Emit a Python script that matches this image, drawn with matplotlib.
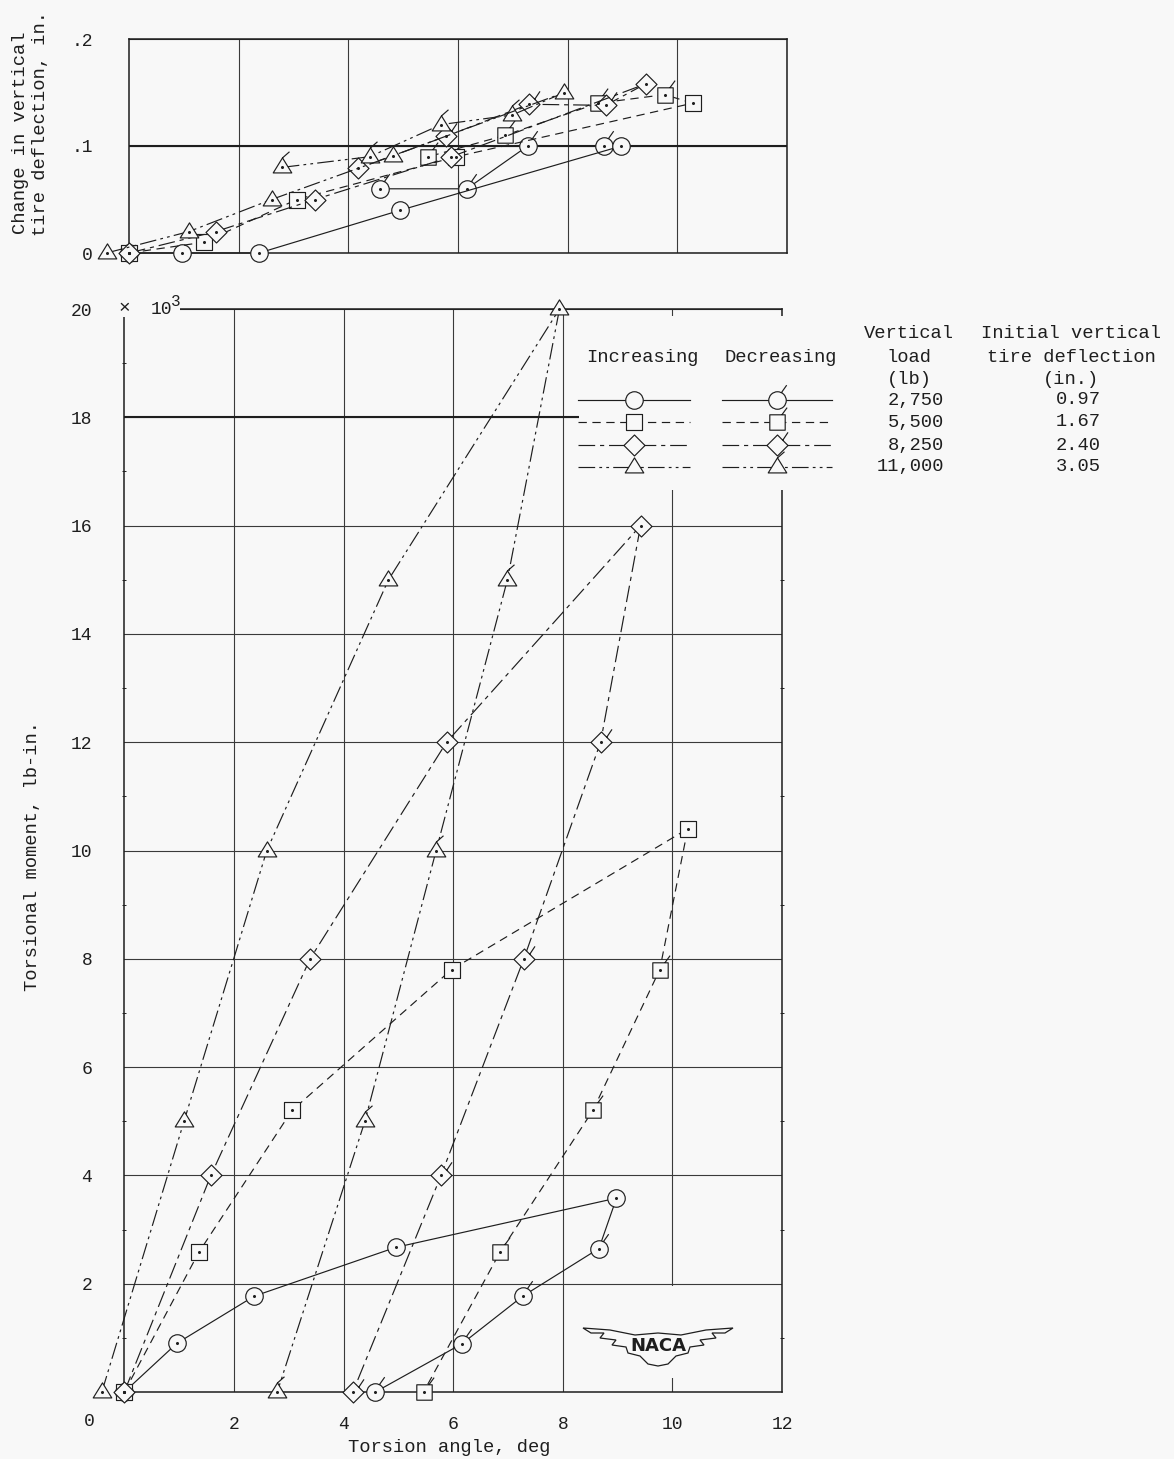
import numpy as np
import matplotlib
matplotlib.use("Agg")
import matplotlib.pyplot as plt
from matplotlib.path import Path
from matplotlib.lines import Line2D
from matplotlib.patches import Rectangle, Polygon

plt.rcParams['font.family'] = ['Liberation Mono', 'DejaVu Sans']
plt.rcParams['lines.scale_dashes'] = False

# ---------------- data ----------------
legend_loads = ["2,750", "5,500", "8,250", "11,000"]
legend_deflections = ["0.97", "1.67", "2.40", "3.05"]
x_ticks = [2, 4, 6, 8, 10, 12]
moment_ticks = [2, 4, 6, 8, 10, 12, 14, 16, 18, 20]
defl_ticks = [0, 0.1, 0.2]
defl_tick_labels = ["0", ".1", ".2"]

# angle (deg), torsional moment (x10^3 lb-in), change in vertical tire deflection (in.)
# 2,750 lb  (circle)
c_inc_angle = [0.0, 0.96, 2.37, 4.95, 8.98]
c_inc_moment = [0.0, 0.90, 1.77, 2.67, 3.58]
c_inc_defl = [0.0, 0.0, 0.0, 0.040, 0.100]
c_dec_angle = [8.98, 8.66, 7.27, 6.16, 4.58]
c_dec_moment = [3.58, 2.65, 1.77, 0.89, 0.0]
c_dec_defl = [0.100, 0.100, 0.100, 0.060, 0.060]
# 5,500 lb  (square)
s_inc_angle = [0.0, 1.36, 3.06, 5.97, 10.28]
s_inc_moment = [0.0, 2.58, 5.20, 7.80, 10.40]
s_inc_defl = [0.0, 0.010, 0.050, 0.090, 0.140]
s_dec_angle = [10.28, 9.77, 8.55, 6.86, 5.46]
s_dec_moment = [10.40, 7.80, 5.20, 2.59, 0.0]
s_dec_defl = [0.140, 0.148, 0.140, 0.110, 0.090]
# 8,250 lb  (diamond)
d_inc_angle = [0.0, 1.58, 3.39, 5.88, 9.42]
d_inc_moment = [0.0, 4.0, 8.0, 12.0, 16.0]
d_inc_defl = [0.0, 0.020, 0.050, 0.090, 0.158]
d_dec_angle = [9.42, 8.69, 7.29, 5.78, 4.17]
d_dec_moment = [16.0, 12.0, 8.0, 4.0, 0.0]
d_dec_defl = [0.158, 0.138, 0.139, 0.109, 0.079]
# 11,000 lb (triangle)
t_inc_angle = [-0.41, 1.09, 2.60, 4.82, 7.94]
t_inc_moment = [0.0, 5.0, 10.0, 15.0, 20.0]
t_inc_defl = [0.0, 0.020, 0.050, 0.091, 0.150]
t_dec_angle = [7.94, 6.99, 5.69, 4.39, 2.79]
t_dec_moment = [20.0, 15.0, 10.0, 5.0, 0.0]
t_dec_defl = [0.150, 0.129, 0.120, 0.090, 0.080]

series = [
    ("circle", "-", c_inc_angle, c_inc_moment, c_inc_defl, c_dec_angle, c_dec_moment, c_dec_defl),
    ("square", (0, (6, 4)), s_inc_angle, s_inc_moment, s_inc_defl, s_dec_angle, s_dec_moment, s_dec_defl),
    ("diamond", (0, (12, 3.5, 3, 3.5)), d_inc_angle, d_inc_moment, d_inc_defl, d_dec_angle, d_dec_moment, d_dec_defl),
    ("triangle", (0, (12, 3, 2, 3, 2, 3)), t_inc_angle, t_inc_moment, t_inc_defl, t_dec_angle, t_dec_moment, t_dec_defl),
]

# ---------------- style ----------------
BG = "#f8f8f8"
INK = "#1e1e1e"
GRID = "#3a3a3a"
W, H = 1174, 1459
U = 6.3  # points per marker unit


def fx(px):
    return px / W


def fy(py):
    return 1 - py / H


def marker_path(shape, flag):
    if shape == "circle":
        base = Path.unit_circle()
        fl = [(0.45, 0.9), (1.05, 1.75)]
    elif shape == "square":
        base = Path([(-0.88, -0.88), (0.88, -0.88), (0.88, 0.88), (-0.88, 0.88), (-0.88, -0.88)],
                    [Path.MOVETO, Path.LINETO, Path.LINETO, Path.LINETO, Path.CLOSEPOLY])
        fl = [(0.5, 0.88), (1.1, 1.7)]
    elif shape == "diamond":
        base = Path([(0, -1.2), (1.2, 0), (0, 1.2), (-1.2, 0), (0, -1.2)],
                    [Path.MOVETO, Path.LINETO, Path.LINETO, Path.LINETO, Path.CLOSEPOLY])
        fl = [(0.6, 0.6), (1.2, 1.5)]
    else:
        base = Path([(-1.06, -0.62), (1.06, -0.62), (0, 1.1), (-1.06, -0.62)],
                    [Path.MOVETO, Path.LINETO, Path.LINETO, Path.CLOSEPOLY])
        fl = [(0.0, 1.1), (0.8, 1.8)]
    if flag:
        p = Path.make_compound_path(base, Path(fl, [Path.MOVETO, Path.LINETO]))
    else:
        p = base
    ms = U * 2 * np.max(np.abs(p.vertices))
    return p, ms


def draw_series(ax, shape, ls, xi, yi, xd, yd):
    p_inc, ms_inc = marker_path(shape, False)
    p_dec, ms_dec = marker_path(shape, True)
    common = dict(color=INK, lw=0.85, ls=ls, mfc=BG, mec=INK, mew=0.85, clip_on=False, zorder=3)
    ax.plot(xd, yd, marker=p_dec, ms=ms_dec, markevery=list(range(1, len(xd))), **common)
    ax.plot(xi, yi, marker=p_inc, ms=ms_inc, **common)
    ax.plot(list(xi) + list(xd[1:]), list(yi) + list(yd[1:]), ls="none", marker="o",
            ms=1.2, color=INK, clip_on=False, zorder=4)


fig = plt.figure(figsize=(W / 100, H / 100), dpi=100, facecolor=BG)

ax_top = fig.add_axes([fx(129), fy(253), (787 - 129) / W, (253 - 39) / H])
ax_bot = fig.add_axes([fx(124.3), fy(1392), (782 - 124.3) / W, (1392 - 309) / H])

for ax in (ax_top, ax_bot):
    ax.set_facecolor(BG)
    ax.set_axisbelow(True)
    ax.set_xlim(0, 12)
    ax.set_xticks(x_ticks)
    ax.grid(True, color=GRID, lw=0.8)
    for sp in ax.spines.values():
        sp.set_linewidth(1.1)
        sp.set_color(INK)
    ax.tick_params(length=0, labelsize=13, colors=INK)

# top panel
ax_top.set_ylim(0, 0.2)
ax_top.set_yticks(defl_ticks)
ax_top.set_yticklabels(defl_tick_labels)
ax_top.set_xticklabels([])
ax_top.tick_params(axis="y", pad=26)
ax_top.axhline(0.1, color=INK, lw=1.5, zorder=0.6)

# bottom panel
ax_bot.set_ylim(0, 20)
ax_bot.set_yticks(moment_ticks)
ax_bot.set_yticklabels([str(v) for v in moment_ticks])
ax_bot.set_xticklabels([str(v) for v in x_ticks])
ax_bot.tick_params(axis="y", pad=23)
ax_bot.tick_params(axis="x", pad=17)
ax_bot.set_yticks(np.arange(1, 20, 2), minor=True)
ax_bot.tick_params(axis="y", which="minor", length=3, direction="inout", right=True, width=0.6)
ax_bot.axhline(18, color=INK, lw=1.5, zorder=0.6)

for shape, ls, ai, mi, di, ad, md, dd in series:
    draw_series(ax_top, shape, ls, ai, di, ad, dd)
    draw_series(ax_bot, shape, ls, ai, mi, ad, md)

# white box behind legend (hides grid and right frame)
ax_bot.add_patch(Rectangle((8.3, 16.66), 4.4, 3.21, fc=BG, ec="none", zorder=2.6, clip_on=False))
# white area behind logo
ax_bot.add_patch(Rectangle((9.7, 0.26), 0.6, 1.70, fc=BG, ec="none", zorder=0.8))

# corner of frame hidden behind the "x 10^3" label
fig.add_artist(Rectangle((fx(110), fy(317)), (180 - 110) / W, (317 - 300) / H,
                         transform=fig.transFigure, fc=BG, ec="none", zorder=1))

# axis texts
fig.text(fx(89), fy(1422), "0", fontsize=13, ha="center", va="center", color=INK)
fig.text(fx(124), fy(309), "\u00d7", fontsize=14, ha="center", va="center", color=INK)
fig.text(fx(151), fy(309), "10", fontsize=13, ha="left", va="center", color=INK)
fig.text(fx(171), fy(302), "3", fontsize=11.5, ha="left", va="center", color=INK)

fig.text(fx(449), fy(1448), "Torsion angle, deg", fontsize=13.5, ha="center", va="center", color=INK)
fig.text(fx(33), fy(856), "Torsional moment, lb-in.", fontsize=13.5, rotation=90,
         ha="center", va="center", color=INK)
fig.text(fx(21), fy(234), "Change in vertical", fontsize=13.5, rotation=90,
         ha="center", va="bottom", color=INK)
fig.text(fx(41), fy(236), "tire deflection, in.", fontsize=13.5, rotation=90,
         ha="center", va="bottom", color=INK)

# legend
fs = 13.5
fig.text(fx(642), fy(358), "Increasing", fontsize=fs, ha="center", va="center", color=INK)
fig.text(fx(781), fy(358), "Decreasing", fontsize=fs, ha="center", va="center", color=INK)
for yy, s in zip([333, 358, 380], ["Vertical", "load", "(lb)"]):
    fig.text(fx(909), fy(yy), s, fontsize=fs, ha="center", va="center", color=INK)
for yy, s in zip([333, 358, 380], ["Initial vertical", "tire deflection", "(in.)"]):
    fig.text(fx(1071), fy(yy), s, fontsize=fs, ha="center", va="center", color=INK)

row_y = [400, 422, 445, 467]
for (shape, ls, *_), yy, load, dfl in zip(series, row_y, legend_loads, legend_deflections):
    for x0, x1, flag in [(578, 690, False), (722, 832, True)]:
        p, ms = marker_path(shape, flag)
        xm = (x0 + x1) / 2
        fig.add_artist(Line2D([fx(x0), fx(xm), fx(x1)], [fy(yy)] * 3, transform=fig.transFigure,
                              color=INK, lw=0.85, ls=ls, marker=p, ms=ms, markevery=[1],
                              mfc=BG, mec=INK, mew=0.85, zorder=4))
    fig.text(fx(944), fy(yy), load, fontsize=fs, ha="right", va="center", color=INK)
    fig.text(fx(1078), fy(yy), dfl, fontsize=fs, ha="center", va="center", color=INK)

# NACA logo
cx, cy = 658, 1345
wing = [(-75, 17), (-48, 15), (-23, 10), (0, 12), (23, 10), (48, 15), (75, 17),
        (67, 12), (54, 12), (58, 7), (42, 5), (46, 0), (32, -2), (30, -8), (18, -11),
        (10, -19), (0, -21), (-10, -19), (-18, -11), (-30, -8), (-32, -2), (-46, 0),
        (-42, 5), (-58, 7), (-54, 12), (-67, 12)]
fig.add_artist(Polygon([(fx(cx + a), fy(cy - b)) for a, b in wing], closed=True,
                       transform=fig.transFigure, fc=BG, ec=INK, lw=0.9, zorder=4))
fig.text(fx(cx), fy(cy + 1), "NACA", fontsize=13, fontweight="bold", family="DejaVu Sans",
         ha="center", va="center", color=INK, zorder=5)

fig.savefig("out.png", dpi=100, facecolor=BG)
